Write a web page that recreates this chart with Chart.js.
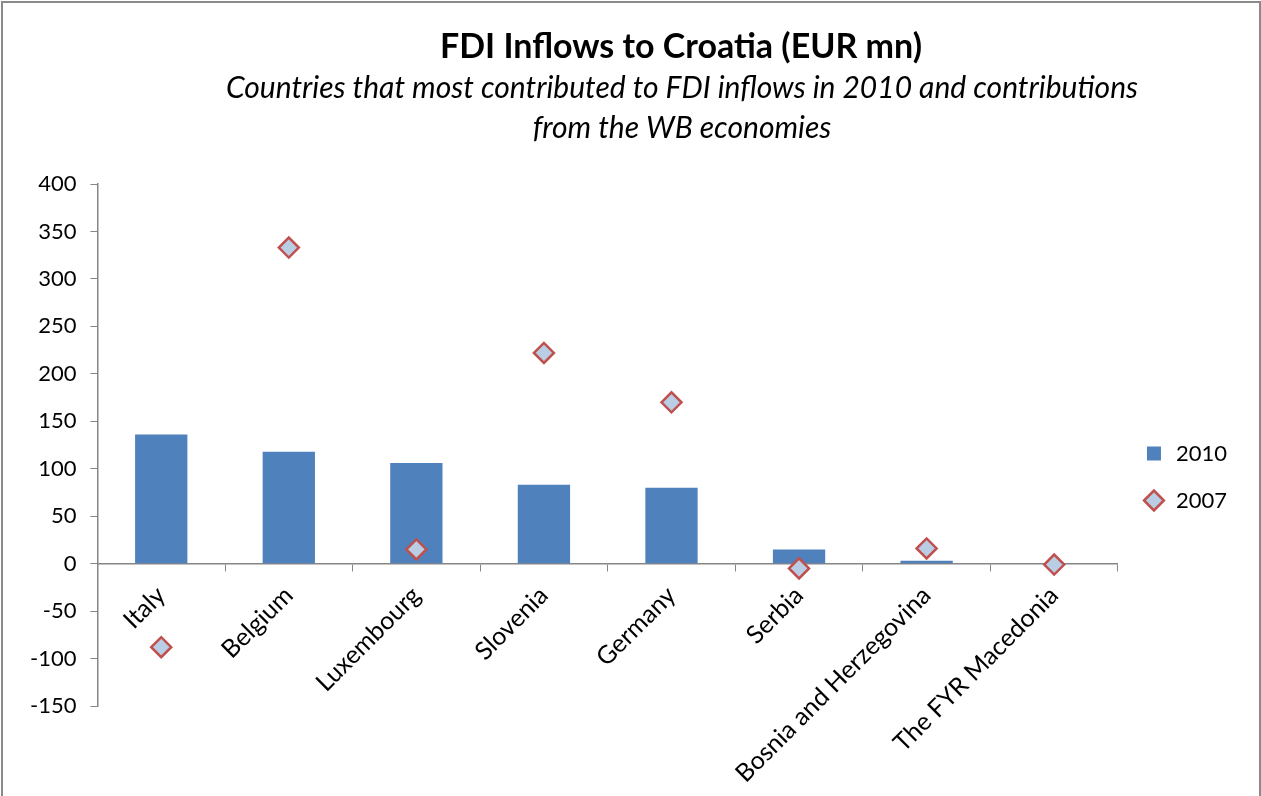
<!DOCTYPE html>
<html>
<head>
<meta charset="utf-8">
<script src="https://cdn.jsdelivr.net/npm/chart.js@4.4.1/dist/chart.umd.min.js"></script>
<style>
  html, body { margin: 0; padding: 0; background: #fff; overflow: hidden; }
  #wrap { position: relative; width: 1261px; height: 796px; }
  #frame { position: absolute; left: 1px; top: 1px; width: 1256px; height: 820px; border: 2px solid #8a8a8a; pointer-events: none; }
</style>
</head>
<body>
<div id="wrap">
  <canvas id="fdiChart" width="1261" height="796"></canvas>
  <div id="frame"></div>
</div>
<script>
// Countries on the x axis
const countries = ['Italy', 'Belgium', 'Luxembourg', 'Slovenia', 'Germany', 'Serbia', 'Bosnia and Herzegovina', 'The FYR Macedonia'];
// FDI inflows, EUR mn
const inflows2010 = [136, 118, 106, 83, 80, 15, 3, 0];
const inflows2007 = [-88, 333, 15, 222, 170, -5, 16, -1];

const titleText = 'FDI Inflows to Croatia (EUR mn)';
const subtitleLines = ['Countries that most contributed to FDI inflows in 2010 and contributions', 'from the WB economies'];

const fontFamily = 'Lato, "Open Sans", sans-serif';

// Draw the title block, centred a bit right of the canvas like the original
const titlePlugin = {
    id: 'titleBlock',
    afterDraw(chart) {
        const ctx = chart.ctx;
        ctx.save();
        ctx.fillStyle = '#000';
        ctx.textAlign = 'center';
        ctx.textBaseline = 'middle';
        ctx.font = 'bold 34px ' + fontFamily;
        ctx.fillText(titleText, 681, 47);
        ctx.font = 'italic 30px ' + fontFamily;
        ctx.fillText(subtitleLines[0], 682, 88);
        ctx.fillText(subtitleLines[1], 682, 128);
        ctx.restore();
    }
};

const ctx = document.getElementById('fdiChart').getContext('2d');
const fdiChart = new Chart(ctx, {
    type: 'bar',
    data: {
        labels: countries,
        datasets: [{
            label: '2010',
            data: inflows2010,
            backgroundColor: '#4F81BD',
            borderWidth: 0,
            barPercentage: 0.41,
            categoryPercentage: 1,
            pointStyle: 'rect',
            order: 2
        }, {
            type: 'line',
            label: '2007',
            data: inflows2007,
            showLine: false,
            pointStyle: 'rectRot',
            pointRadius: 10,
            pointHoverRadius: 10,
            pointBackgroundColor: '#B9CDE5',
            pointBorderColor: '#C0504D',
            pointBorderWidth: 2.5,
            backgroundColor: '#B9CDE5',
            borderColor: '#C0504D',
            borderWidth: 1.5,
            order: 1
        }]
    },
    options: {
        responsive: false,
        animation: false,
        layout: {
            padding: { top: 184, bottom: 90, left: 16, right: 24 }
        },
        plugins: {
            title: { display: false },
            tooltip: { enabled: false },
            legend: {
                position: 'right',
                title: { display: true, text: ' ', padding: 20, font: { size: 20 } },
                labels: {
                    usePointStyle: true,
                    boxHeight: 14,
                    padding: 25,
                    color: '#000',
                    font: { family: fontFamily, size: 22 },
                    sort: (a, b) => a.datasetIndex - b.datasetIndex
                }
            }
        },
        scales: {
            x: {
                position: { y: 0 },
                offset: true,
                grid: {
                    display: true,
                    offset: true,
                    drawOnChartArea: false,
                    drawTicks: true,
                    tickLength: 7,
                    color: '#868686'
                },
                border: { display: true, color: '#868686', width: 1.5 },
                ticks: {
                    minRotation: 45,
                    maxRotation: 45,
                    autoSkip: false,
                    padding: 10,
                    color: '#000',
                    font: { family: fontFamily, size: 25 }
                }
            },
            y: {
                min: -150,
                max: 400,
                ticks: {
                    stepSize: 50,
                    padding: 14,
                    color: '#000',
                    font: { family: fontFamily, size: 22 }
                },
                grid: {
                    drawOnChartArea: false,
                    drawTicks: true,
                    tickLength: 7,
                    color: '#868686'
                },
                border: { display: true, color: '#868686', width: 1.5 }
            }
        }
    },
    plugins: [titlePlugin]
});
</script>
</body>
</html>
